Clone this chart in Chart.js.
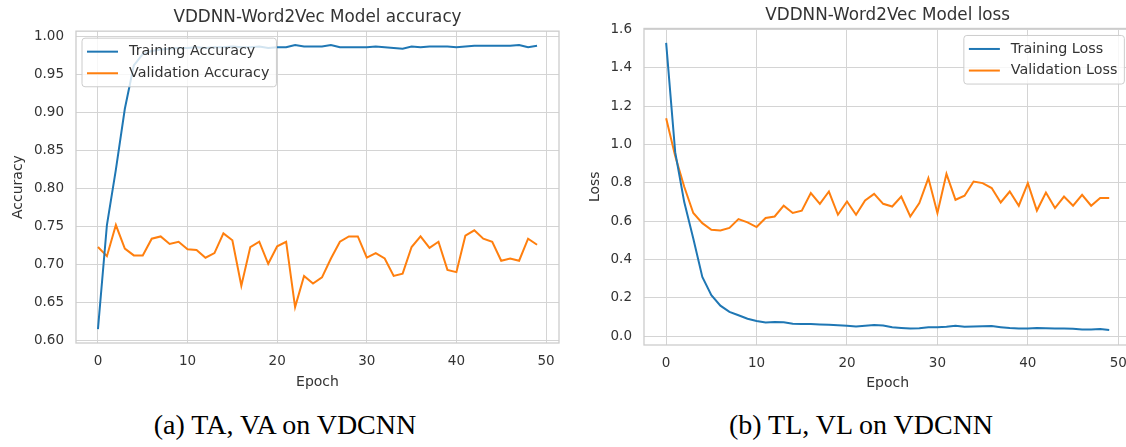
<!DOCTYPE html>
<html>
<head>
<meta charset="utf-8">
<title>VDDNN-Word2Vec accuracy and loss</title>
<script src="https://cdn.jsdelivr.net/npm/chart.js@4.4.1/dist/chart.umd.min.js"></script>
<style>
  html, body { margin: 0; padding: 0; background: #fff; overflow: hidden; width: 1126px; height: 447px; }
  .box { position: absolute; top: 0; }
  #accBox { left: 0; width: 565px; height: 393px; }
  #lossBox { left: 575px; width: 562px; height: 395px; }
  .caption { position: absolute; top: 410px; width: 320px; line-height: 30px; text-align: center;
             font-family: "Liberation Serif", "Times New Roman", serif; font-size: 28px; color: #000; white-space: nowrap; }
</style>
</head>
<body>
<div class="box" id="accBox"><canvas id="accChart"></canvas></div>
<div class="box" id="lossBox"><canvas id="lossChart"></canvas></div>
<div class="caption" style="left:125px">(a) TA, VA on VDCNN</div>
<div class="caption" style="left:701px">(b) TL, VL on VDCNN</div>

<script>
// epochs and tick labels
const epochs = [0,1,2,3,4,5,6,7,8,9,10,11,12,13,14,15,16,17,18,19,20,21,22,23,24,
                25,26,27,28,29,30,31,32,33,34,35,36,37,38,39,40,41,42,43,44,45,46,47,48,49];
const epochTicks = [0, 10, 20, 30, 40, 50];
const accTicks = [0.60, 0.65, 0.70, 0.75, 0.80, 0.85, 0.90, 0.95, 1.00];
const lossTicks = [0.0, 0.2, 0.4, 0.6, 0.8, 1.0, 1.2, 1.4, 1.6];

// accuracy per epoch
const trainAcc = [0.615, 0.752, 0.825, 0.905, 0.962, 0.977, 0.981, 0.983, 0.984, 0.985,
                  0.985, 0.986, 0.985, 0.986, 0.986, 0.987, 0.986, 0.986, 0.987, 0.985,
                  0.986, 0.986, 0.989, 0.987, 0.987, 0.987, 0.989, 0.986, 0.986, 0.986,
                  0.986, 0.987, 0.986, 0.985, 0.984, 0.987, 0.986, 0.987, 0.987, 0.987,
                  0.986, 0.987, 0.988, 0.988, 0.988, 0.988, 0.988, 0.989, 0.986, 0.988];
const valAcc = [0.723, 0.711, 0.752, 0.721, 0.712, 0.712, 0.734, 0.737, 0.727, 0.730,
                0.720, 0.719, 0.709, 0.715, 0.741, 0.732, 0.672, 0.723, 0.730, 0.701,
                0.724, 0.730, 0.644, 0.685, 0.675, 0.683, 0.708, 0.730, 0.737, 0.737,
                0.709, 0.715, 0.708, 0.685, 0.688, 0.723, 0.737, 0.722, 0.730, 0.693,
                0.690, 0.738, 0.745, 0.734, 0.730, 0.705, 0.708, 0.705, 0.734, 0.726];

// loss per epoch
const trainLoss = [1.530, 0.960, 0.700, 0.510, 0.310, 0.215, 0.160, 0.128, 0.110, 0.092,
                   0.080, 0.072, 0.075, 0.073, 0.066, 0.065, 0.064, 0.062, 0.060, 0.058,
                   0.055, 0.052, 0.055, 0.059, 0.057, 0.047, 0.044, 0.041, 0.042, 0.048,
                   0.047, 0.050, 0.055, 0.050, 0.051, 0.053, 0.054, 0.048, 0.043, 0.041,
                   0.041, 0.043, 0.042, 0.041, 0.041, 0.040, 0.036, 0.036, 0.038, 0.033];
const valLoss = [1.137, 0.940, 0.780, 0.643, 0.590, 0.556, 0.552, 0.565, 0.611, 0.594,
                 0.570, 0.617, 0.625, 0.681, 0.643, 0.655, 0.747, 0.691, 0.755, 0.634,
                 0.703, 0.634, 0.708, 0.743, 0.691, 0.677, 0.729, 0.625, 0.695, 0.825,
                 0.643, 0.847, 0.712, 0.733, 0.807, 0.799, 0.773, 0.698, 0.755, 0.681,
                 0.799, 0.656, 0.750, 0.669, 0.729, 0.681, 0.738, 0.681, 0.721, 0.721];

const BLUE = '#1f77b4';
const ORANGE = '#ff7f0e';
const GRID = '#d4d4d4';

Chart.defaults.font.family = '"DejaVu Sans", sans-serif';
Chart.defaults.color = '#333333';

// frame round the plot and a matplotlib-like legend inside it
const frameLegend = {
  id: 'frameLegend',
  beforeDatasetsDraw(chart) {
    const { ctx, chartArea: a } = chart;
    ctx.save();
    ctx.strokeStyle = '#cccccc';
    ctx.lineWidth = 1.3;
    ctx.strokeRect(a.left, a.top, a.right - a.left, a.bottom - a.top);
    ctx.restore();
  },
  afterDatasetsDraw(chart, args, opts) {
    const { ctx, chartArea: a } = chart;
    const sets = chart.data.datasets;
    ctx.save();
    ctx.font = '14.3px "DejaVu Sans"';
    const textW = Math.max(...sets.map(d => ctx.measureText(d.label).width));
    const w = 5 + 31 + 11 + textW + 7;
    const h = 27 + 21.6 * (sets.length - 1);
    const x = opts.corner === 'left' ? a.left + 6 : a.right - 7 - w;
    const y = a.top + 7;
    ctx.beginPath();
    if (ctx.roundRect) ctx.roundRect(x, y, w, h, 3); else ctx.rect(x, y, w, h);
    ctx.fillStyle = 'rgba(255,255,255,0.8)';
    ctx.fill();
    ctx.strokeStyle = '#cccccc';
    ctx.lineWidth = 1;
    ctx.stroke();
    sets.forEach((d, i) => {
      const cy = y + 13.5 + i * 21.6;
      ctx.beginPath();
      ctx.moveTo(x + 5, cy);
      ctx.lineTo(x + 36, cy);
      ctx.strokeStyle = d.borderColor;
      ctx.lineWidth = 2;
      ctx.stroke();
      ctx.fillStyle = '#333333';
      ctx.textBaseline = 'middle';
      ctx.fillText(d.label, x + 47, cy);
    });
    ctx.restore();
  }
};

function points(values) {
  return epochs.map((e, i) => ({ x: e, y: values[i] }));
}

function lineSet(label, values, color) {
  return { label: label, data: points(values), borderColor: color, backgroundColor: color,
           borderWidth: 2, pointRadius: 0, tension: 0, fill: false };
}

function makeChart(id, cfg) {
  new Chart(document.getElementById(id), {
    type: 'line',
    data: { datasets: cfg.datasets },
    plugins: [frameLegend],
    options: {
      responsive: true,
      maintainAspectRatio: false,
      animation: false,
      layout: { padding: { left: 0, right: cfg.padRight, top: 0, bottom: 0 } },
      plugins: {
        legend: { display: false },
        tooltip: { enabled: false },
        title: { display: true, text: cfg.title, fullSize: false, color: '#333333',
                 font: { size: 16.8, weight: 'normal' }, padding: cfg.titlePad },
        frameLegend: { corner: cfg.corner }
      },
      scales: {
        x: {
          type: 'linear', min: -2.45, max: 51.45,
          afterBuildTicks: s => { s.ticks = epochTicks.map(v => ({ value: v })); },
          afterFit: s => { s.height = 50; },
          grid: { color: GRID, lineWidth: 1, drawTicks: false },
          border: { display: false },
          ticks: { font: { size: 13.5 }, padding: 10, maxRotation: 0 },
          title: { display: true, text: 'Epoch', font: { size: 14 }, padding: { top: 0, bottom: cfg.xTitlePad } }
        },
        y: {
          min: cfg.yMin, max: cfg.yMax,
          afterBuildTicks: s => { s.ticks = cfg.yTicks.map(v => ({ value: v })); },
          afterFit: s => { s.width = cfg.yWidth; },
          grid: { color: GRID, lineWidth: 1, drawTicks: false },
          border: { display: false },
          ticks: { font: { size: 13.5 }, padding: 12, callback: v => v.toFixed(cfg.digits) },
          title: { display: true, text: cfg.yLabel, font: { size: 14 }, padding: { top: cfg.yTitlePad, bottom: 0 } }
        }
      }
    }
  });
}

makeChart('accChart', {
  title: 'VDDNN-Word2Vec Model accuracy',
  datasets: [lineSet('Training Accuracy', trainAcc, BLUE), lineSet('Validation Accuracy', valAcc, ORANGE)],
  yMin: 0.5967, yMax: 1.0072, yTicks: accTicks, digits: 2, yLabel: 'Accuracy',
  yWidth: 76, padRight: 6, titlePad: { top: 8, bottom: 3 }, yTitlePad: 9.6, xTitlePad: 2.6,
  corner: 'left'
});

makeChart('lossChart', {
  title: 'VDDNN-Word2Vec Model loss',
  datasets: [lineSet('Training Loss', trainLoss, BLUE), lineSet('Validation Loss', valLoss, ORANGE)],
  yMin: -0.045, yMax: 1.605, yTicks: lossTicks, digits: 1, yLabel: 'Loss',
  yWidth: 69, padRight: 5, titlePad: { top: 5.4, bottom: 2.9 }, yTitlePad: 11.6, xTitlePad: 3.6,
  corner: 'right'
});
</script>
</body>
</html>
